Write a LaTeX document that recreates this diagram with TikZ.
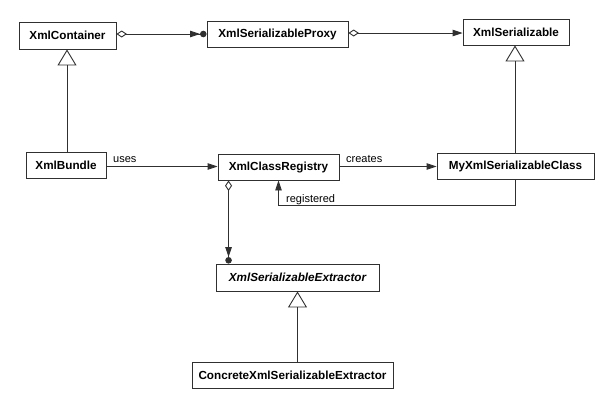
\documentclass[tikz,border=0pt]{standalone}
\usepackage{fontspec}
\setmainfont{Liberation Sans}
\usetikzlibrary{arrows.meta}
\definecolor{linecol}{HTML}{303030}
\tikzset{
  cls/.style={draw=linecol, line width=0.9bp, fill=white, inner sep=0pt, align=center,
    font=\fontsize{11.7bp}{13bp}\selectfont\bfseries, text=black},
  conn/.style={draw=linecol, line width=0.9bp},
  lbl/.style={font=\fontsize{11bp}{13bp}\selectfont, text=black, inner sep=0pt},
  inherit/.style={conn, -{Triangle[open, length=16bp, width=19bp, line width=0.9bp]}},
  assoc/.style={conn, -{Triangle[length=10bp, width=6.5bp]}},
  aggdot/.style={conn, {Diamond[open, length=10.5bp, width=7bp, line width=0.9bp]}-{Triangle[length=10bp, width=6.5bp]Circle[length=6.5bp]}},
  aggarr/.style={conn, {Diamond[open, length=10.5bp, width=7bp, line width=0.9bp]}-{Triangle[length=10bp, width=6.5bp]}}
}
\begin{document}
\begin{tikzpicture}[x=1bp,y=-1bp]
\useasboundingbox (0,0) rectangle (612,406);
\fill[white] (0,0) rectangle (612,406);
\node[cls, minimum width=97bp, minimum height=27bp] (cont) at (67.5,35.5) {XmlContainer};
\node[cls, minimum width=141bp, minimum height=26bp] (proxy) at (277.5,34) {XmlSerializableProxy};
\node[cls, minimum width=106bp, minimum height=26bp] (ser) at (516,32) {XmlSerializable};
\node[cls, minimum width=80bp, minimum height=26bp] (bundle) at (66,165) {XmlBundle};
\node[cls, minimum width=121bp, minimum height=26bp] (reg) at (278.5,167) {XmlClassRegistry};
\node[cls, minimum width=157bp, minimum height=26bp] (my) at (515.5,166) {MyXmlSerializableClass};
\node[cls, minimum width=163bp, minimum height=27bp, font=\fontsize{11.7bp}{13bp}\selectfont\bfseries\itshape] (ext) at (297.5,277.5) {XmlSerializableExtractor};
\node[cls, minimum width=201bp, minimum height=26bp] (conc) at (292.5,375) {ConcreteXmlSerializableExtractor};

% aggregations
\draw[aggdot] (cont.east |- proxy.west) -- (proxy.west);
\draw[aggarr] (proxy.east |- 0,33) -- (ser.west |- 0,33);
\draw[aggdot] ([xshift=11bp]reg.south west) -- ([xshift=11bp]reg.south west |- ext.north);

% inheritance
\draw[inherit] (bundle.north -| 67,0) -- (cont.south -| 67,0);
\draw[inherit] (my.north -| 515,0) -- (ser.south -| 515,0);
\draw[inherit] (conc.north -| ext.south) -- (ext.south);

% associations
\draw[assoc] (bundle.east |- 0,166.5) -- (reg.west |- 0,166.5);
\draw[assoc] (reg.east |- 0,166.5) -- (my.west |- 0,166.5);
\coordinate (rc) at (515,205);
\draw[assoc] (my.south -| rc) -- (rc) -| (reg.south);

% labels
\node[lbl, anchor=base west] (uses) at (113,162.5) {uses};
\node[lbl, anchor=base west] (creates) at (346,162.5) {creates};
\node[lbl, anchor=base west] (registered) at (286,202) {registered};
\end{tikzpicture}
\end{document}
